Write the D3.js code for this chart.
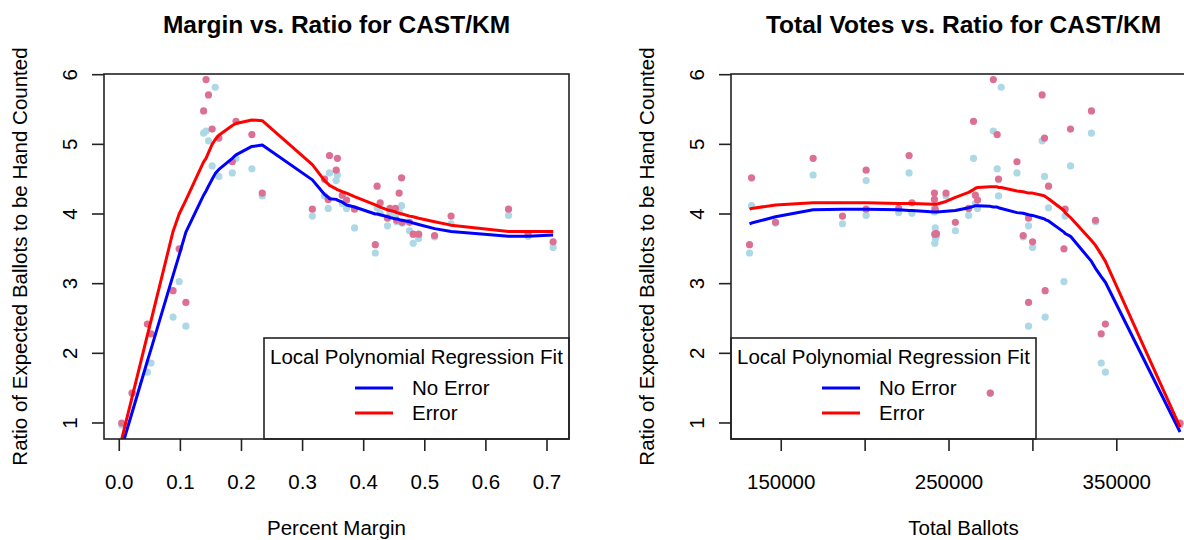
<!DOCTYPE html>
<html>
<head>
<meta charset="utf-8">
<script src="https://cdn.jsdelivr.net/npm/d3@7"></script>
<style>
  body { margin: 0; background: #fff; }
  text { font-family: "Liberation Sans", Arial, sans-serif; fill: #000; }
</style>
</head>
<body>
<div id="chart"></div>
<script>
// one entry per race
var margin = [0.004,0.021,0.046,0.052,0.088,0.098,0.109,0.138,0.142,0.146,
  0.152,0.157,0.163,0.185,0.191,0.217,0.234,0.316,0.336,0.342,
  0.344,0.355,0.357,0.365,0.372,0.385,0.419,0.422,0.427,0.439,
  0.443,0.452,0.454,0.458,0.462,0.463,0.475,0.481,0.490,0.516,
  0.543,0.637,0.669,0.710];
var ballots = [387700,274600,343200,340700,307300,318500,297400,334900,276400,305500,
  322400,281100,306900,290500,264600,278700,248200,319200,279500,241300,
  226200,200600,169000,265700,267000,241800,131100,309300,227900,297400,
  220000,261700,337300,241300,132300,146600,253800,241500,242000,294200,
  186500,200600,242500,299800];
var ratioNoError = [0.97,1.43,1.73,1.86,2.52,3.03,2.39,5.16,5.19,5.05,
  4.69,5.82,4.54,4.59,4.80,4.65,4.26,3.97,4.26,4.08,
  4.59,4.48,4.56,4.15,4.08,3.80,3.44,4.09,4.01,3.83,
  4.02,3.98,3.89,4.03,4.12,3.87,3.76,3.58,3.65,3.67,
  3.86,3.98,3.68,3.52];
var ratioError = [1.00,1.43,2.42,2.28,2.90,3.50,2.73,5.48,5.93,5.71,
  5.22,6.30,5.09,4.75,5.33,5.14,4.30,4.07,4.50,4.21,
  4.84,4.63,4.80,4.27,4.20,4.07,3.56,4.40,4.16,3.94,
  4.08,4.08,3.91,4.30,4.52,3.88,3.88,3.71,3.71,3.69,
  3.97,4.07,3.72,3.60];

// loess fits (x = sorted margins)
var marginFitNoError = [0.65,1.15,1.89,2.06,3.12,3.41,3.74,4.27,4.33,4.40,
  4.50,4.58,4.64,4.80,4.85,4.97,4.99,4.49,4.28,4.24,
  4.22,4.21,4.20,4.17,4.13,4.10,4.00,4.00,3.99,3.96,
  3.95,3.93,3.93,3.92,3.91,3.91,3.89,3.87,3.85,3.79,
  3.75,3.68,3.68,3.70];
var marginFitError = [0.77,1.37,2.26,2.47,3.75,4.00,4.20,4.75,4.80,4.88,
  5.00,5.07,5.13,5.27,5.30,5.35,5.34,4.71,4.48,4.43,
  4.41,4.36,4.35,4.32,4.30,4.25,4.13,4.12,4.10,4.06,
  4.05,4.03,4.02,4.01,4.00,4.00,3.97,3.96,3.94,3.89,
  3.84,3.75,3.75,3.75];

var ballotsFitX = [131100,132300,146600,169000,186500,200600,220000,226200,227900,241300,
  241500,241800,242000,242500,248200,253800,261700,264600,265700,267000,
  274600,276400,278700,279500,281100,290500,294200,297400,299800,305500,
  306900,307300,309300,318500,319200,322400,334900,337300,340700,343200,
  387700];
var ballotsFitNoError = [3.86,3.87,3.96,4.06,4.07,4.07,4.06,4.05,4.05,4.03,
  4.03,4.03,4.03,4.03,4.04,4.05,4.09,4.11,4.12,4.12,
  4.11,4.10,4.10,4.09,4.08,4.02,4.01,3.99,3.98,3.94,
  3.93,3.92,3.90,3.74,3.72,3.68,3.32,3.22,3.10,3.02,
  0.87];
var ballotsFitError = [4.07,4.08,4.13,4.16,4.16,4.16,4.15,4.15,4.15,4.14,
  4.14,4.14,4.14,4.14,4.18,4.24,4.31,4.35,4.37,4.38,
  4.39,4.39,4.39,4.38,4.38,4.33,4.32,4.30,4.30,4.27,
  4.26,4.25,4.22,4.05,4.02,3.95,3.62,3.55,3.42,3.32,
  0.94];

var ratioTicks = [1,2,3,4,5,6];
var marginTicks = [0,0.1,0.2,0.3,0.4,0.5,0.6,0.7];
var marginTickLabels = ["0.0","0.1","0.2","0.3","0.4","0.5","0.6","0.7"];
var ballotTicks = [150000,200000,250000,300000,350000];
var ballotTickLabels = ["150000","","250000","","350000"];

var legendTitle = "Local Polynomial Regression Fit";
var legendNames = ["No Error","Error"];

var W = 1184, H = 540;
var colNoError = "#add8e6", colError = "#db7093";
var lineCols = ["#0000ff", "#ff0000"];

var svg = d3.select("#chart").append("svg")
  .attr("width", W).attr("height", H);

var yScale = d3.scaleLinear().domain([0.77, 6.01]).range([439, 74]);

function drawPanel(p) {
  var x = d3.scaleLinear().domain(p.xDomain).range([p.left, p.right]);
  var g = svg.append("g");
  var clipId = "clip" + p.id;

  g.append("clipPath").attr("id", clipId)
    .append("rect")
    .attr("x", p.left).attr("y", 74)
    .attr("width", p.right - p.left).attr("height", 439 - 74);

  var plot = g.append("g").attr("clip-path", "url(#" + clipId + ")");

  // points: no error first, error on top
  plot.selectAll("circle.ne")
    .data(d3.range(p.xs.length))
    .enter().append("circle")
    .attr("cx", function(i) { return x(p.xs[i]); })
    .attr("cy", function(i) { return yScale(ratioNoError[i]); })
    .attr("r", 3.6)
    .attr("fill", colNoError);

  plot.selectAll("circle.er")
    .data(d3.range(p.xs.length))
    .enter().append("circle")
    .attr("cx", function(i) { return x(p.xs[i]); })
    .attr("cy", function(i) { return yScale(ratioError[i]); })
    .attr("r", 3.6)
    .attr("fill", colError);

  var line = d3.line()
    .x(function(d) { return x(d[0]); })
    .y(function(d) { return yScale(d[1]); });

  [p.fitNoError, p.fitError].forEach(function(fit, k) {
    plot.append("path")
      .datum(p.fitX.map(function(v, i) { return [v, fit[i]]; }))
      .attr("d", line)
      .attr("fill", "none")
      .attr("stroke", lineCols[k])
      .attr("stroke-width", 3)
      .attr("stroke-linejoin", "round");
  });

  // box
  g.append("rect")
    .attr("x", p.left).attr("y", 74)
    .attr("width", p.right - p.left).attr("height", 439 - 74)
    .attr("fill", "none").attr("stroke", "#222").attr("stroke-width", 1.6);

  // y axis
  var yAxis = g.append("g");
  yAxis.selectAll("line")
    .data(ratioTicks).enter().append("line")
    .attr("x1", p.left - 12).attr("x2", p.left)
    .attr("y1", function(d) { return yScale(d); })
    .attr("y2", function(d) { return yScale(d); })
    .attr("stroke", "#222").attr("stroke-width", 1.6);
  yAxis.selectAll("text")
    .data(ratioTicks).enter().append("text")
    .attr("transform", function(d) {
      return "translate(" + (p.left - 27) + "," + yScale(d) + ") rotate(-90)";
    })
    .attr("text-anchor", "middle")
    .style("font-size", "20.5px")
    .text(function(d) { return d; });

  // x axis
  var xAxis = g.append("g");
  xAxis.selectAll("line")
    .data(p.ticks).enter().append("line")
    .attr("x1", function(d) { return x(d); })
    .attr("x2", function(d) { return x(d); })
    .attr("y1", 439).attr("y2", 451)
    .attr("stroke", "#222").attr("stroke-width", 1.6);
  xAxis.selectAll("text")
    .data(p.ticks).enter().append("text")
    .attr("x", function(d) { return x(d); })
    .attr("y", 489)
    .attr("text-anchor", "middle")
    .style("font-size", "20.5px")
    .text(function(d, i) { return p.tickLabels[i]; });

  var cx = (p.left + p.right) / 2;
  g.append("text")
    .attr("x", cx).attr("y", 535)
    .attr("text-anchor", "middle")
    .style("font-size", "20.5px")
    .text(p.xTitle);

  g.append("text")
    .attr("transform", "translate(" + (p.left - 77) + "," + ((74 + 439) / 2) + ") rotate(-90)")
    .attr("text-anchor", "middle")
    .style("font-size", "20.5px")
    .text("Ratio of Expected Ballots to be Hand Counted");

  g.append("text")
    .attr("x", cx).attr("y", 33)
    .attr("text-anchor", "middle")
    .style("font-size", "24.5px")
    .style("font-weight", "bold")
    .text(p.title);

  // legend
  var lg = g.append("g").attr("transform", "translate(" + p.legendX + ",338)");
  lg.append("rect")
    .attr("width", 305).attr("height", 101)
    .attr("fill", "none").attr("stroke", "#222").attr("stroke-width", 1.6);
  lg.append("text")
    .attr("x", 6).attr("y", 26)
    .style("font-size", "20.5px")
    .text(legendTitle);
  legendNames.forEach(function(name, k) {
    var ly = 50 + k * 25;
    lg.append("line")
      .attr("x1", 91).attr("x2", 129)
      .attr("y1", ly).attr("y2", ly)
      .attr("stroke", lineCols[k]).attr("stroke-width", 3);
    lg.append("text")
      .attr("x", 148).attr("y", ly + 7)
      .style("font-size", "20.5px")
      .text(name);
  });
}

drawPanel({
  id: 1, left: 104, right: 569,
  xDomain: [-0.025, 0.736],
  xs: margin,
  fitX: margin, fitNoError: marginFitNoError, fitError: marginFitError,
  ticks: marginTicks, tickLabels: marginTickLabels,
  xTitle: "Percent Margin",
  title: "Margin vs. Ratio for CAST/KM",
  legendX: 264
});

drawPanel({
  id: 2, left: 731, right: 1196,
  xDomain: [120060, 397200],
  xs: ballots,
  fitX: ballotsFitX, fitNoError: ballotsFitNoError, fitError: ballotsFitError,
  ticks: ballotTicks, tickLabels: ballotTickLabels,
  xTitle: "Total Ballots",
  title: "Total Votes vs. Ratio for CAST/KM",
  legendX: 731
});
</script>
</body>
</html>
